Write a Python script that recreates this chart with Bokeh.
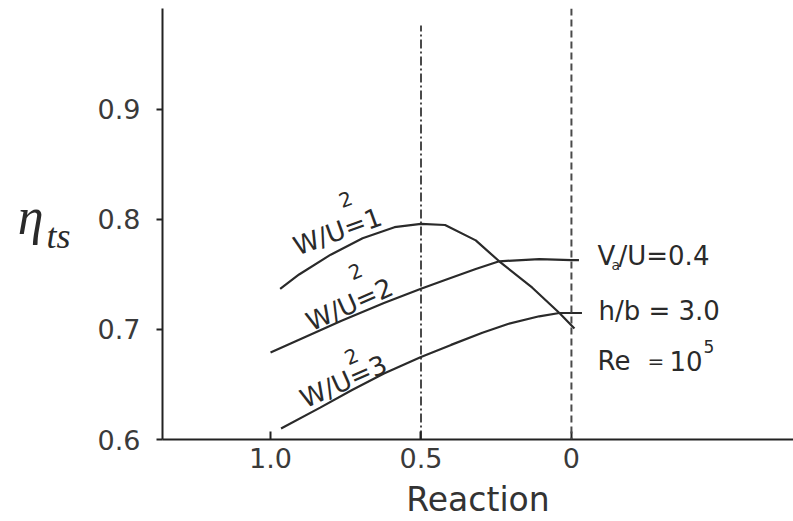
from bokeh.plotting import figure
from bokeh.models import Range1d, FixedTicker, Label, Span, LinearAxis
from bokeh.embed import file_html
from bokeh.resources import INLINE
import math

# ---- data ----
x_ticks = [1.0, 0.5, 0.0]
x_tick_labels = ["1.0", "0.5", "0"]
y_ticks = [0.6, 0.7, 0.8, 0.9]

wu1_x = [0.968, 0.905, 0.80, 0.694, 0.588, 0.5, 0.42, 0.318, 0.24, 0.13, 0.04, -0.01]
wu1_y = [0.737, 0.750, 0.768, 0.783, 0.793, 0.796, 0.795, 0.781, 0.762, 0.738, 0.715, 0.701]

wu2_x = [1.0, 0.894, 0.764, 0.623, 0.5, 0.42, 0.318, 0.24, 0.107, 0.0, -0.025]
wu2_y = [0.679, 0.692, 0.708, 0.724, 0.737, 0.745, 0.755, 0.762, 0.764, 0.763, 0.763]

wu3_x = [0.965, 0.835, 0.729, 0.623, 0.5, 0.40, 0.296, 0.211, 0.107, 0.04, 0.0, -0.035]
wu3_y = [0.610, 0.629, 0.645, 0.660, 0.675, 0.686, 0.697, 0.705, 0.712, 0.715, 0.715, 0.715]

ref_lines_x = [0.5, 0.0]

W, H = 793, 521
FL, FR, FT, FB = 162, 793, 8, 439
XR = (1.359, -0.738)
YR = (0.6, 0.9918)


def X(px):
    return XR[0] + (px - FL) / (FR - FL) * (XR[1] - XR[0])


def Y(py):
    return YR[0] + (FB - py) / (FB - FT) * (YR[1] - YR[0])


p = figure(width=W, height=H, output_backend="svg", toolbar_location=None,
           x_range=Range1d(*XR), y_range=Range1d(*YR),
           min_border_left=FL, min_border_right=W - FR,
           min_border_top=FT, min_border_bottom=H - FB)
p.outline_line_color = None
p.xgrid.visible = False
p.ygrid.visible = False
p.background_fill_color = "white"
p.border_fill_color = "white"

for ax in (p.xaxis[0], p.yaxis[0]):
    ax.axis_line_width = 2
    ax.axis_line_color = "#222222"
    ax.major_tick_line_width = 2
    ax.major_tick_line_color = "#222222"
    ax.minor_tick_line_color = None
    ax.major_label_text_font = "DejaVu Sans"
    ax.major_label_text_font_size = "27px"
    ax.major_label_text_color = "#3a3a3a"

p.xaxis.ticker = FixedTicker(ticks=x_ticks)
p.xaxis.major_label_overrides = {t: s for t, s in zip(x_ticks, x_tick_labels)}
p.xaxis.major_tick_in = 8
p.xaxis.major_tick_out = 0
p.xaxis.major_label_standoff = 8
p.xaxis.axis_label = "Reaction"
p.xaxis.axis_label_text_font = "DejaVu Sans"
p.xaxis.axis_label_text_font_size = "33px"
p.xaxis.axis_label_text_font_style = "normal"
p.xaxis.axis_label_text_color = "#333333"
p.xaxis.axis_label_standoff = 9

TXT = "#2a2a2a"

p.yaxis.ticker = FixedTicker(ticks=y_ticks)
p.yaxis.major_tick_in = 0
p.yaxis.major_tick_out = 6
p.yaxis.major_label_standoff = 16
# subscript "ts" of the y label (eta drawn on an extra bare axis further left)
p.yaxis.axis_label = "\nts"
p.yaxis.axis_label_orientation = "horizontal"
p.yaxis.axis_label_standoff = 24
p.yaxis.axis_label_text_font = "Liberation Serif"
p.yaxis.axis_label_text_font_style = "italic"
p.yaxis.axis_label_text_font_size = "36px"
p.yaxis.axis_label_text_line_height = 0.6
p.yaxis.axis_label_text_color = TXT

eta_axis = LinearAxis(axis_label="η\n", ticker=FixedTicker(ticks=[]),
                      axis_line_color=None, major_tick_line_color=None,
                      minor_tick_line_color=None, major_tick_in=0, major_tick_out=0,
                      minor_tick_in=0, minor_tick_out=0,
                      axis_label_orientation="horizontal", axis_label_standoff=0,
                      axis_label_text_font="Liberation Serif",
                      axis_label_text_font_style="italic",
                      axis_label_text_font_size="52px",
                      axis_label_text_line_height=0.25,
                      axis_label_text_color=TXT)
p.add_layout(eta_axis, "left")

# reference lines
p.segment(x0=ref_lines_x[0], y0=YR[0], x1=ref_lines_x[0], y1=Y(25),
          line_color="#4a4a4a", line_width=2, line_dash="9 3 2 3")
p.add_layout(Span(location=ref_lines_x[1], dimension="height",
                  line_color="#4a4a4a", line_width=2, line_dash="7 4"))

for xs, ys in ((wu1_x, wu1_y), (wu2_x, wu2_y), (wu3_x, wu3_y)):
    p.line(xs, ys, line_color="#2a2a2a", line_width=2.2)


def lab(text, px, py, size, font="DejaVu Sans", style="normal", angle=0.0,
        align="left", baseline="alphabetic"):
    p.add_layout(Label(x=X(px), y=Y(py), text=text, angle=angle,
                       text_font=font, text_font_size=f"{size}px",
                       text_font_style=style, text_color=TXT,
                       text_align=align, text_baseline=baseline))


# curve labels
lab("W/U=1", 337, 231, 26, angle=math.radians(20), align="center", baseline="middle")
lab("2", 345, 199, 20, angle=math.radians(20), align="center", baseline="middle")
lab("W/U=2", 349, 304, 26, angle=math.radians(24), align="center", baseline="middle")
lab("2", 355, 271, 20, angle=math.radians(24), align="center", baseline="middle")
lab("W/U=3", 343, 381, 26, angle=math.radians(24), align="center", baseline="middle")
lab("2", 351, 356, 20, angle=math.radians(24), align="center", baseline="middle")

# right annotations
lab("V", 597, 255, 26)
lab("a", 611, 264, 14)
lab("/U=0.4", 618, 255, 26)
lab("h/b = 3.0", 598, 310, 26)
lab("Re", 597, 360, 26)
lab("=", 647, 360, 20)
lab("10", 669, 360, 26)
lab("5", 703, 346, 17)

open("out.html", "w").write(file_html(p, INLINE))
